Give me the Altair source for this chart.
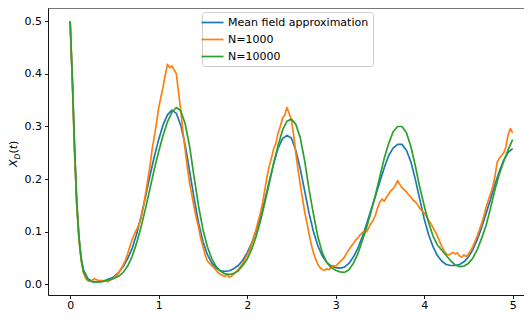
import altair as alt
import pandas as pd

# ---------------- data ----------------
series_names = ["Mean field approximation", "N=1000", "N=10000"]
series_colors = ["#1f77b4", "#ff7f0e", "#2ca02c"]

t_early = [0.0, 0.025, 0.05, 0.075, 0.1, 0.125, 0.15]
t_coarse = t_early + [round(0.2 + 0.05 * i, 3) for i in range(97)]
t_fine = [round(0.025 * i, 3) for i in range(201)]

mean_field = [
    0.500, 0.390, 0.260, 0.155, 0.090, 0.050, 0.028,
    0.011, 0.006, 0.005, 0.006, 0.008, 0.011,
    0.015, 0.023, 0.034, 0.049, 0.068, 0.095, 0.128, 0.165, 0.205, 0.242,
    0.275, 0.303, 0.322, 0.331, 0.325, 0.302, 0.265, 0.215, 0.165, 0.118,
    0.082, 0.057, 0.041, 0.031, 0.026, 0.025, 0.026, 0.030, 0.036, 0.046,
    0.060, 0.078, 0.100, 0.128, 0.160, 0.196, 0.230, 0.259, 0.277, 0.283,
    0.278, 0.255, 0.220, 0.178, 0.135, 0.100, 0.073, 0.054, 0.042, 0.035,
    0.032, 0.031, 0.033, 0.040, 0.052, 0.068, 0.090, 0.115, 0.142, 0.168,
    0.195, 0.222, 0.245, 0.259, 0.266, 0.266, 0.255, 0.233, 0.200, 0.162,
    0.125, 0.095, 0.072, 0.055, 0.044, 0.038, 0.036, 0.036, 0.038, 0.043,
    0.052, 0.066, 0.085, 0.108, 0.135, 0.162, 0.190, 0.215, 0.236, 0.251,
    0.258,
]

n10000 = [
    0.500, 0.390, 0.260, 0.155, 0.088, 0.048, 0.025,
    0.009, 0.005, 0.005, 0.005, 0.007, 0.009,
    0.012, 0.016, 0.023, 0.035, 0.053, 0.078, 0.108, 0.143, 0.180, 0.218,
    0.252, 0.283, 0.309, 0.327, 0.336, 0.330, 0.305, 0.262, 0.205, 0.150,
    0.105, 0.072, 0.049, 0.034, 0.025, 0.020, 0.019, 0.021, 0.026, 0.036,
    0.048, 0.066, 0.090, 0.120, 0.155, 0.192, 0.230, 0.264, 0.293, 0.310,
    0.314, 0.304, 0.279, 0.235, 0.180, 0.133, 0.090, 0.060, 0.042, 0.032,
    0.027, 0.024, 0.023, 0.028, 0.040, 0.058, 0.082, 0.108, 0.138, 0.170,
    0.205, 0.240, 0.268, 0.290, 0.300, 0.300, 0.288, 0.262, 0.226, 0.185,
    0.150, 0.118, 0.092, 0.075, 0.065, 0.055, 0.045, 0.037, 0.034, 0.035,
    0.040, 0.050, 0.066, 0.088, 0.112, 0.145, 0.180, 0.210, 0.234, 0.256,
    0.275,
]

n1000 = [
    0.500, 0.385, 0.250, 0.150, 0.085, 0.045, 0.022, 0.012,
    0.007, 0.006, 0.008, 0.011, 0.009, 0.007, 0.008, 0.006,
    0.007, 0.005, 0.008, 0.010, 0.014, 0.017, 0.022, 0.030,
    0.037, 0.046, 0.058, 0.072, 0.085, 0.095, 0.104, 0.112,
    0.125, 0.145, 0.170, 0.196, 0.222, 0.255, 0.280, 0.305,
    0.335, 0.355, 0.375, 0.398, 0.418, 0.412, 0.415, 0.408,
    0.400, 0.365, 0.330, 0.290, 0.255, 0.222, 0.193, 0.170,
    0.147, 0.127, 0.110, 0.088, 0.072, 0.057, 0.045, 0.040,
    0.036, 0.032, 0.027, 0.022, 0.019, 0.017, 0.015, 0.018,
    0.014, 0.016, 0.020, 0.024, 0.028, 0.034, 0.040, 0.048,
    0.056, 0.064, 0.076, 0.090, 0.104, 0.120, 0.136, 0.155,
    0.180, 0.205, 0.225, 0.240, 0.258, 0.268, 0.288, 0.300,
    0.316, 0.322, 0.336, 0.325, 0.312, 0.285, 0.250, 0.218,
    0.190, 0.165, 0.138, 0.118, 0.096, 0.076, 0.060, 0.048,
    0.038, 0.032, 0.028, 0.027, 0.030, 0.028, 0.033, 0.036,
    0.034, 0.039, 0.043, 0.047, 0.052, 0.060, 0.066, 0.072,
    0.078, 0.084, 0.088, 0.094, 0.098, 0.102, 0.100, 0.108,
    0.116, 0.122, 0.132, 0.146, 0.157, 0.162, 0.158, 0.166,
    0.172, 0.178, 0.182, 0.188, 0.197, 0.190, 0.184, 0.180,
    0.176, 0.170, 0.166, 0.160, 0.157, 0.152, 0.145, 0.140,
    0.136, 0.130, 0.122, 0.116, 0.108, 0.100, 0.092, 0.082,
    0.072, 0.064, 0.058, 0.056, 0.058, 0.061, 0.058, 0.060,
    0.054, 0.052, 0.056, 0.053, 0.058, 0.064, 0.072, 0.082,
    0.092, 0.104, 0.116, 0.130, 0.146, 0.160, 0.172, 0.185,
    0.205, 0.232, 0.240, 0.245, 0.250, 0.262, 0.285, 0.296,
    0.288,
]

x_ticks = [0, 1, 2, 3, 4, 5]
y_ticks = [0.0, 0.1, 0.2, 0.3, 0.4, 0.5]

assert len(mean_field) == len(t_coarse)
assert len(n10000) == len(t_coarse)
assert len(n1000) == len(t_fine)

df_mf = pd.DataFrame({"t": t_coarse, "v": mean_field, "series": series_names[0]})
df_1k = pd.DataFrame({"t": t_fine, "v": n1000, "series": series_names[1]})
df_10k = pd.DataFrame({"t": t_coarse, "v": n10000, "series": series_names[2]})

FONT = "DejaVu Sans"
W, H = 476, 287

axis_common = dict(title=None, grid=False, domain=True, domainColor="black",
                   domainWidth=0.9, tickSize=3.5, tickWidth=0.9, tickColor="black",
                   labelFontSize=11, labelColor="black", labelFont=FONT)

x_enc = alt.X(
    "t:Q",
    scale=alt.Scale(domain=[-0.25, 5.1285], nice=False, zero=False),
    axis=alt.Axis(values=x_ticks, format="d", labelPadding=1, **axis_common),
)
y_enc = alt.Y(
    "v:Q",
    scale=alt.Scale(domain=[-0.02, 0.525], nice=False, zero=False),
    axis=alt.Axis(values=y_ticks, format=".1f", labelPadding=3, **axis_common),
)
color_enc = alt.Color(
    "series:N",
    scale=alt.Scale(domain=series_names, range=series_colors),
    legend=alt.Legend(
        orient="none", legendX=154, legendY=4, title=None,
        symbolType="M-2,0H2", symbolSize=121, symbolStrokeWidth=1.7,
        labelFont=FONT, labelFontSize=11, labelColor="black", labelLimit=400,
        labelOffset=9, rowPadding=5, padding=4,
        strokeColor="#cccccc", fillColor="white", cornerRadius=3,
    ),
)


def line_layer(df):
    return alt.Chart(df).mark_line(strokeWidth=1.7, strokeJoin="round").encode(
        x=x_enc, y=y_enc, color=color_enc
    )


one = pd.DataFrame({"k": [0]})

# top spine of the axes frame
top_spine = alt.Chart(one).mark_rule(color="black", strokeWidth=0.9).encode(
    x=alt.value(0), x2=alt.value(W), y=alt.value(0)
)


def title_piece(text, x, y, size=11, italic=False):
    kw = dict(text=text, font=FONT, fontSize=size, angle=270, align="left",
              baseline="alphabetic", color="black")
    if italic:
        kw["fontStyle"] = "italic"
    return alt.Chart(one).mark_text(**kw).encode(x=alt.value(x), y=alt.value(y))


title_layers = [
    title_piece("X", -30.7, 159.0, 11, True),
    title_piece("D", -28.5, 151.6, 7.7, True),
    title_piece("(", -30.7, 145.6, 11, False),
    title_piece("t", -30.7, 141.3, 11, True),
    title_piece(")", -30.7, 137.0, 11, False),
]

chart = alt.layer(
    line_layer(df_mf), line_layer(df_1k), line_layer(df_10k), top_spine, *title_layers
).properties(
    width=W, height=H,
    autosize=alt.AutoSizeParams(type="none"),
    padding={"left": 40, "top": 0, "right": 0, "bottom": 17},
    background="white",
).configure_view(
    stroke=None
).configure(font=FONT)

chart.save("out.html", embed_options={"renderer": "svg", "actions": False})
